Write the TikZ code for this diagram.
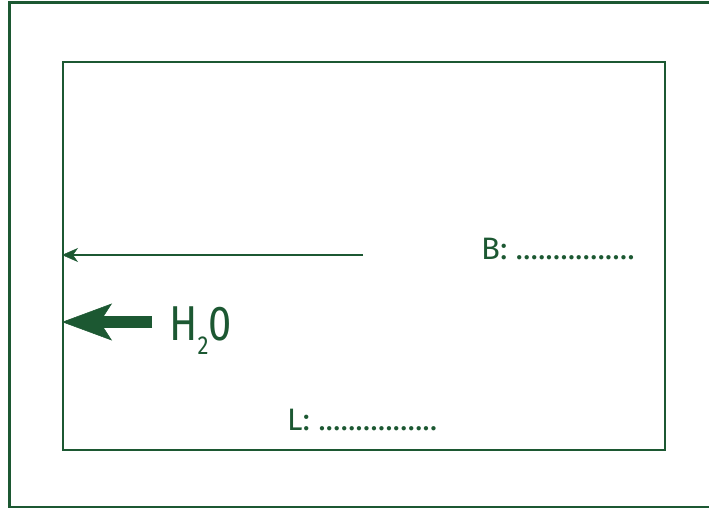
\documentclass[tikz,border=0pt]{standalone}
\usepackage{fontspec}
\setmainfont{Fira Sans}
\newfontfamily\narrowsans[FakeStretch = 0.85]{Fira Sans}
\usepackage{tikz}
\usetikzlibrary{arrows.meta}
\usetikzlibrary{positioning}
\definecolor{tankgreen}{RGB}{28,88,50}
\newcommand{\dotline}{................}
\tikzset{
	wall/.style = {draw = tankgreen, line width = 2.4pt},
	thinflow/.style = {draw = tankgreen, line width = 2pt, -{Stealth[length = 16pt, width = 14pt, inset = 5pt, line width = 0.5pt]}},
	thickflow/.style = {draw = tankgreen, line width = 12pt, -{Stealth[length = 50pt, width = 37pt, inset = 12pt, line width = 0.5pt]}},
	label/.style = {text = tankgreen, anchor = base west, inner sep = 0pt}
}

\begin{document}
\begin{tikzpicture}[x = 1pt, y = -1pt]

					\useasboundingbox (0,0) rectangle (709,508);

					\draw[wall] (9.5,2.5) rectangle (730,507.5);

					\node[wall, anchor = north west, inner sep = 0pt, minimum width = 602pt, minimum height = 388pt] (tank) at (62,61) {};

					\coordinate (start) at (363,255);
					\coordinate (flow) at (152,322);

					\draw[thinflow] (start) -- (start -| tank.west);
					\draw[thickflow] (flow) -- (flow -| tank.west);

					\node[label, font = \narrowsans\fontsize{49}{50}\selectfont] (water) at (169,340) {H\raisebox{-14pt}{\fontsize{26}{26}\selectfont 2}0};

					\node[label, font = \fontsize{31}{36}\selectfont] (breite) at (481,259) {B: \dotline};

					\node[label, font = \fontsize{31}{36}\selectfont] (laenge) at (287,430) {L: \dotline};

				\end{tikzpicture}
\end{document}
